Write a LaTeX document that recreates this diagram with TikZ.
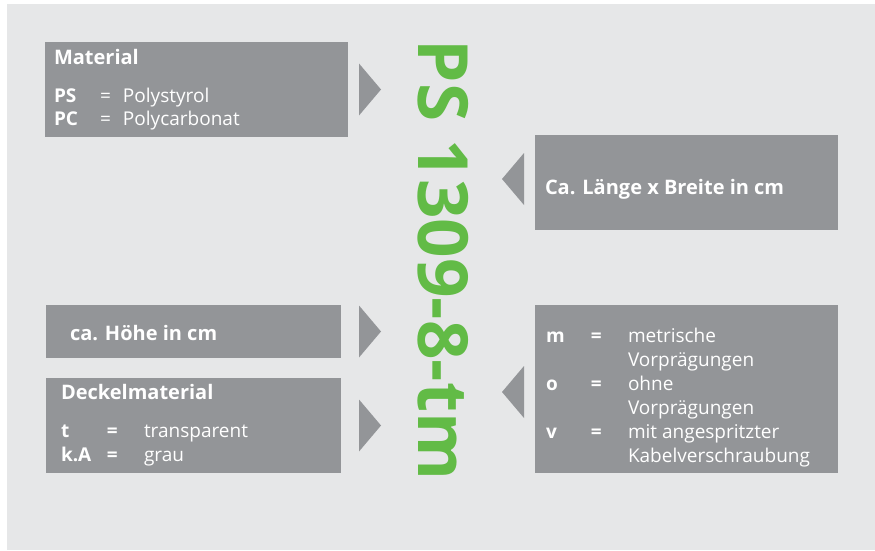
\documentclass[tikz,border=0pt]{standalone}
\usepackage{fontspec}
\setmainfont{Open Sans}
\usepackage{tikz}
\usetikzlibrary{positioning,calc}
\definecolor{boxgray}{HTML}{939598}
\definecolor{panelgray}{HTML}{E6E7E8}
\definecolor{codegreen}{HTML}{62BB46}
\newcommand{\heading}[1]{{\fontsize{20}{24}\selectfont\bfseries #1}}

\begin{document}
\begin{tikzpicture}[x=1pt,y=-1pt,
  every node/.style={inner sep=0pt,outer sep=0pt},
  box/.style={fill=boxgray,anchor=north west},
  boxtext/.style={text=white,anchor=base west,font=\fontsize{19}{24}\selectfont},
  pointer/.style={fill=boxgray},
  code/.style={text=codegreen,font=\fontsize{69.3}{70}\selectfont\bfseries}
]
  \useasboundingbox (0,0) rectangle (875,551);
  \fill[panelgray] (7,4) rectangle (875,550);

  % tips of the pointers
  \coordinate (lefttip) at (381,0);
  \coordinate (righttip) at (502,0);

  % boxes
  \node (material) [box,minimum width=303pt,minimum height=95pt] at (45,42) {};
  \node (size) [box,minimum width=303pt,minimum height=95pt] at (535,135) {};
  \node (height) [box,minimum width=295pt,minimum height=53pt] at (46,305) {};
  \node (lid) [box,minimum width=295pt,minimum height=95pt] at (46,378) {};
  \node (options) [box,minimum width=303pt,minimum height=168pt] at (535,305) {};

  % texts
  \node (material text) [boxtext] at ([shift={(9,23)}]material.north west) {%
    \begin{tabular}[t]{@{}p{46pt}@{}p{23pt}@{}l@{}}
      \multicolumn{3}{@{}l@{}}{\heading{Material}}\\[13pt]
      \textbf{PS} & = & Polystyrol\\
      \textbf{PC} & = & Polycarbonat
    \end{tabular}};
  \node (size text) [boxtext] at ([shift={(10,59)}]size.north west) {\heading{Ca. Länge x Breite in cm}};
  \node (height text) [boxtext] at ([shift={(24,35)}]height.north west) {\heading{ca. Höhe in cm}};
  \node (lid text) [boxtext] at ([shift={(15,21)}]lid.north west) {%
    \begin{tabular}[t]{@{}p{46pt}@{}p{37pt}@{}l@{}}
      \multicolumn{3}{@{}l@{}}{\heading{Deckelmaterial}}\\[14pt]
      \textbf{t} & \textbf{=} & transparent\\
      \textbf{k.A} & \textbf{=} & grau
    \end{tabular}};
  \node (options text) [boxtext] at ([shift={(11,37)}]options.north west) {%
    \begin{tabular}[t]{@{}p{45pt}@{}p{37pt}@{}l@{}}
      \textbf{m} & \textbf{=} & metrische\\
       & & Vorprägungen\\
      \textbf{o} & \textbf{=} & ohne\\
       & & Vorprägungen\\
      \textbf{v} & \textbf{=} & mit angespritzter\\
       & & Kabelverschraubung
    \end{tabular}};

  % order code
  \node (code) [code,rotate=-90,anchor=base west] at (418,40) {PS 1309-8-tm};

  % pointers
  \fill[pointer] (material.east -| lefttip) ++(-22,-26) -- ++(22,26) -- ++(-22,26) -- cycle;
  \fill[pointer] (height.east -| lefttip) ++(-22,-26) -- ++(22,26) -- ++(-22,26) -- cycle;
  \fill[pointer] (lid.east -| lefttip) ++(-22,-26) -- ++(22,26) -- ++(-22,26) -- cycle;
  \fill[pointer] ([yshift=3.5pt]size.west -| righttip) ++(22,-26) -- ++(-22,26) -- ++(22,26) -- cycle;
  \fill[pointer] ([yshift=-3pt]options.west -| righttip) ++(22,-26) -- ++(-22,26) -- ++(22,26) -- cycle;
\end{tikzpicture}
\end{document}
